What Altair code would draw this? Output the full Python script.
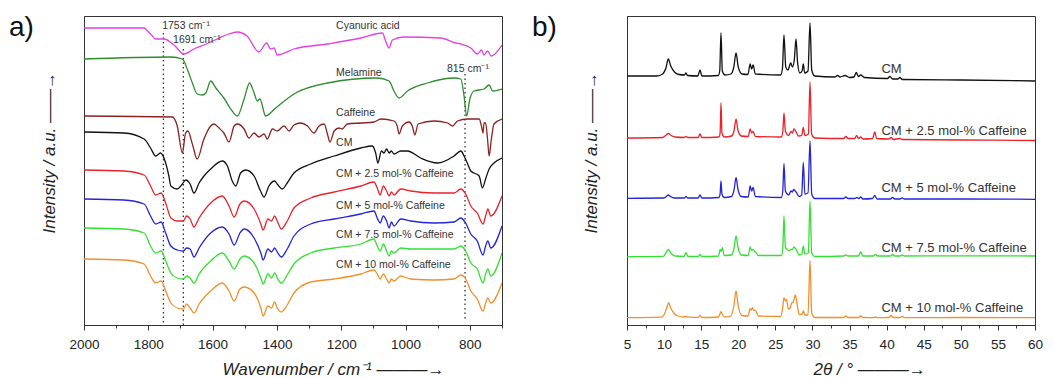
import altair as alt
import pandas as pd

FONT = "Liberation Sans"

# ---------------- Panel a: IR spectra (wavenumber, intensity a.u.) ----------------
cyanuric = [(2000, 297), (1813, 297), (1805, 295), (1790, 290), (1777, 286), (1751, 286), (1720, 280),
            (1689, 271), (1658, 276), (1620, 281), (1586, 286), (1550, 291), (1524, 293), (1493, 289),
            (1456, 273), (1432, 282), (1420, 276), (1409, 277), (1399, 270), (1347, 276), (1243, 281),
            (1139, 287), (1072, 292), (1062, 284), (1051, 277), (1041, 285), (1005, 288), (891, 287),
            (844, 282), (828, 281), (797, 277), (776, 271), (764, 275), (756, 270), (745, 274),
            (734, 269), (700, 280)]
melamine = [(2000, 266), (1730, 268), (1694, 266), (1679, 256), (1663, 242), (1648, 231), (1632, 230),
            (1621, 232), (1606, 244), (1590, 237), (1565, 227), (1539, 214), (1523, 209), (1502, 226),
            (1485, 242), (1471, 232), (1461, 224), (1453, 226), (1435, 209), (1404, 217), (1347, 231),
            (1243, 242), (1088, 247), (1051, 244), (1036, 234), (1020, 227), (994, 234), (932, 242),
            (849, 247), (828, 246), (818, 229), (810, 209), (800, 226), (787, 234), (756, 236),
            (740, 240), (729, 234), (700, 236)]
caffeine = [(2000, 209), (1725, 208), (1710, 199), (1694, 172), (1684, 192), (1677, 194), (1663, 181),
            (1648, 166), (1627, 186), (1606, 199), (1596, 201), (1580, 197), (1565, 192), (1549, 183),
            (1533, 199), (1523, 201), (1502, 196), (1487, 187), (1471, 192), (1456, 188), (1440, 191),
            (1430, 186), (1414, 196), (1399, 194), (1378, 199), (1362, 194), (1347, 200), (1326, 202),
            (1305, 199), (1285, 192), (1269, 199), (1253, 201), (1243, 191), (1235, 183), (1222, 194),
            (1207, 197), (1197, 196), (1181, 201), (1139, 202), (1098, 203), (1077, 206), (1036, 204),
            (1026, 199), (1020, 191), (1010, 199), (989, 203), (979, 199), (971, 190), (961, 201),
            (911, 204), (869, 202), (854, 199), (838, 204), (808, 206), (771, 206), (764, 199),
            (759, 192), (756, 202), (751, 202), (745, 186), (740, 169), (733, 186), (725, 201), (700, 206)]
cm = [(2000, 193), (1876, 192), (1813, 186), (1793, 177), (1777, 169), (1762, 172), (1746, 162),
      (1736, 149), (1730, 139), (1710, 136), (1694, 141), (1684, 145), (1670, 141), (1658, 132),
      (1642, 142), (1627, 149), (1606, 156), (1570, 164), (1554, 159), (1539, 144), (1528, 139),
      (1513, 152), (1497, 155), (1471, 149), (1451, 134), (1440, 128), (1425, 139), (1407, 144),
      (1399, 141), (1383, 136), (1368, 142), (1347, 152), (1295, 161), (1222, 169), (1139, 177),
      (1103, 179), (1093, 172), (1086, 162), (1075, 174), (1067, 172), (1059, 176), (1051, 172),
      (1044, 174), (1036, 171), (1015, 174), (994, 174), (953, 167), (901, 162), (849, 169),
      (828, 174), (818, 169), (808, 162), (797, 154), (771, 149), (761, 137), (751, 146),
      (740, 156), (725, 162), (700, 167)]
cm25 = [(2000, 155), (1876, 154), (1813, 150), (1793, 139), (1777, 130), (1760, 132), (1746, 122),
        (1730, 107), (1710, 104), (1691, 104), (1681, 109), (1670, 106), (1658, 98), (1642, 107),
        (1606, 122), (1570, 129), (1549, 119), (1533, 108), (1515, 121), (1502, 124), (1471, 116),
        (1450, 101), (1443, 95), (1428, 106), (1417, 104), (1407, 109), (1399, 104), (1386, 96),
        (1368, 104), (1347, 117), (1295, 127), (1222, 133), (1139, 139), (1098, 143), (1088, 137),
        (1079, 130), (1069, 139), (1059, 134), (1051, 129), (1044, 133), (1036, 130), (1015, 136),
        (984, 134), (911, 132), (849, 132), (828, 136), (813, 131), (797, 119), (777, 112),
        (759, 101), (751, 109), (744, 116), (735, 109), (700, 129)]
cm5 = [(2000, 126), (1876, 125), (1813, 121), (1793, 109), (1777, 101), (1760, 103), (1746, 92),
       (1730, 79), (1710, 75), (1691, 74), (1681, 77), (1670, 76), (1658, 68), (1642, 77),
       (1606, 92), (1570, 98), (1549, 91), (1533, 80), (1515, 92), (1502, 96), (1471, 87),
       (1450, 72), (1443, 65), (1428, 76), (1417, 73), (1407, 77), (1399, 73), (1386, 68),
       (1368, 76), (1347, 89), (1295, 101), (1222, 106), (1139, 111), (1098, 114), (1088, 107),
       (1079, 102), (1069, 109), (1059, 104), (1051, 97), (1044, 103), (1036, 99), (1015, 106),
       (984, 104), (911, 102), (849, 103), (828, 107), (813, 102), (797, 91), (777, 84),
       (759, 70), (751, 79), (744, 84), (735, 77), (700, 99)]
cm75 = [(2000, 97), (1876, 96), (1813, 92), (1793, 79), (1777, 72), (1760, 74), (1746, 64),
        (1730, 52), (1710, 47), (1691, 46), (1681, 49), (1670, 47), (1658, 42), (1642, 51),
        (1606, 64), (1570, 72), (1549, 64), (1533, 56), (1515, 66), (1502, 69), (1471, 62),
        (1450, 47), (1443, 41), (1428, 51), (1417, 47), (1407, 52), (1399, 47), (1386, 42),
        (1368, 50), (1347, 61), (1295, 72), (1222, 77), (1139, 81), (1098, 86), (1088, 79),
        (1079, 74), (1069, 81), (1059, 74), (1051, 69), (1044, 74), (1036, 72), (1015, 77),
        (984, 76), (911, 76), (849, 76), (828, 79), (813, 74), (797, 62), (777, 56),
        (759, 42), (751, 51), (744, 56), (735, 49), (700, 72)]
cm10 = [(2000, 66), (1876, 65), (1813, 61), (1793, 49), (1777, 42), (1760, 44), (1746, 34),
        (1730, 22), (1710, 17), (1691, 16), (1681, 21), (1670, 17), (1658, 12), (1642, 21),
        (1606, 34), (1570, 42), (1549, 34), (1533, 24), (1515, 36), (1502, 38), (1471, 32),
        (1450, 17), (1443, 9), (1428, 19), (1417, 17), (1407, 23), (1399, 17), (1386, 13),
        (1368, 20), (1347, 32), (1295, 43), (1222, 46), (1139, 51), (1098, 55), (1088, 51),
        (1079, 46), (1069, 51), (1059, 46), (1051, 42), (1044, 46), (1036, 44), (1015, 49),
        (984, 46), (911, 45), (849, 46), (828, 50), (813, 46), (797, 34), (777, 26),
        (759, 14), (751, 22), (744, 27), (735, 22), (700, 42)]

ir_names = ["Cyanuric acid", "Melamine", "Caffeine", "CM", "CM + 2.5 mol-% Caffeine",
            "CM + 5 mol-% Caffeine", "CM + 7.5 mol-% Caffeine", "CM + 10 mol-% Caffeine"]
ir_data = [cyanuric, melamine, caffeine, cm, cm25, cm5, cm75, cm10]
ir_colors = ["#e440e2", "#2e8b2e", "#8b2222", "#111111", "#e8232b", "#2424d8", "#34e034", "#f0902c"]
ir_label_y = [299, 252, 212, 182, 151, 119, 90, 60]
ir_label_x = 1216

# dotted reference lines: wavenumber, top, bottom
ref_wn = [1753, 1691, 815]
ref_top = [292, 276, 251]
ref_bottom = [2, 0, 4]
ref_text = ["1753 cm⁻¹", "1691 cm⁻¹", "815 cm⁻¹"]
ref_text_x = [1757, 1723, 871]
ref_text_y = [299, 285, 256]

# ---------------- Panel b: XRD patterns (2theta, intensity a.u.) ----------------
xrd_cm = [(5, 249), (9.0, 249), (9.8, 251), (10.25, 257), (10.57, 266), (10.9, 259), (11.4, 253),
          (12.0, 250.5), (12.75, 250), (12.95, 252), (13.15, 249.5), (14.55, 249), (14.84, 255),
          (15.1, 249), (17.3, 249.5), (17.5, 254), (17.67, 292), (17.85, 254), (18.2, 250),
          (19.0, 251), (19.4, 258), (19.7, 272), (20.0, 258), (20.5, 251), (21.3, 250.5),
          (21.6, 261), (21.8, 256), (22.0, 260), (22.3, 251), (25.7, 250), (25.95, 256),
          (26.16, 290), (26.4, 258), (26.7, 255), (27.07, 262), (27.3, 258), (27.55, 265),
          (27.78, 286), (28.0, 262), (28.3, 252), (28.6, 254), (28.77, 261), (28.95, 252),
          (29.4, 254), (29.67, 302), (29.9, 255), (30.3, 249), (33.0, 248), (33.4, 249.5),
          (33.7, 248), (34.4, 249.5), (35.0, 247.5), (35.6, 248), (35.9, 252.5), (36.2, 248.5),
          (36.5, 250), (37.0, 247.5), (40.1, 246.5), (40.45, 248.5), (40.8, 246), (41.5, 246),
          (41.8, 247.5), (42.1, 245.5), (50, 245), (60, 244)]
xrd_25 = [(5, 187), (9.8, 187.5), (10.2, 189.5), (10.57, 191.5), (10.95, 189.5), (11.5, 188),
          (12.7, 187.5), (12.95, 188.5), (13.2, 187.5), (14.6, 187.5), (14.84, 191), (15.1, 187.5),
          (17.4, 188), (17.55, 192), (17.67, 222), (17.8, 192), (18.1, 188), (19.1, 189),
          (19.45, 195), (19.7, 206), (19.95, 195), (20.4, 189), (21.35, 188.5), (21.6, 196),
          (21.8, 192), (22.0, 193.5), (22.3, 188.5), (25.8, 188), (26.0, 193), (26.16, 212),
          (26.35, 194), (26.8, 189.5), (27.1, 193.5), (27.3, 192), (27.5, 196), (27.8, 193),
          (28.1, 189), (28.55, 189.5), (28.77, 197.5), (28.97, 189.5), (29.45, 191), (29.67, 243),
          (29.88, 191), (30.3, 187), (34.2, 186.5), (34.5, 188.5), (34.8, 186.5), (35.7, 186.5),
          (35.95, 189.5), (36.2, 186.5), (36.5, 188), (36.8, 186), (38.1, 186.5), (38.4, 193),
          (38.65, 186.5), (40.3, 186), (40.6, 187.5), (40.9, 185.5), (41.8, 186.5), (42.1, 185.5),
          (50, 185), (60, 184.5)]
xrd_5 = [(5, 126.7), (10.0, 127), (10.3, 128.5), (10.57, 130), (10.85, 128.5), (11.4, 127),
         (12.75, 127), (12.95, 128.5), (13.15, 127), (14.6, 127), (14.84, 130), (15.1, 127),
         (17.4, 127.5), (17.55, 131), (17.67, 144), (17.8, 131), (18.1, 127.5), (19.1, 128.5),
         (19.45, 136), (19.7, 147.5), (19.95, 136), (20.4, 128.5), (21.35, 128), (21.6, 139),
         (21.8, 134), (22.0, 137.5), (22.3, 128.5), (25.8, 127.5), (26.0, 134), (26.16, 161.5),
         (26.35, 134), (26.8, 130), (27.1, 134), (27.3, 133), (27.45, 135.5), (27.8, 133),
         (28.2, 128.5), (28.55, 130), (28.77, 162.5), (28.97, 131), (29.4, 132), (29.67, 184),
         (29.9, 131), (30.3, 126.5), (34.2, 126.5), (34.5, 128), (34.8, 126.5), (35.7, 126.5),
         (36.0, 127.5), (36.25, 126.5), (36.5, 128), (36.8, 126), (38.1, 126.5), (38.4, 129.5),
         (38.7, 126), (40.5, 126), (40.8, 127.5), (41.1, 126), (41.8, 126), (42.1, 127),
         (42.4, 126), (50, 126), (60, 125.7)]
xrd_75 = [(5, 68.3), (9.9, 68.7), (10.25, 72), (10.57, 75.7), (10.9, 72), (11.5, 69), (12.7, 68.7),
          (12.95, 72.3), (13.2, 68.7), (14.6, 68.5), (14.84, 70.5), (15.1, 68.5), (17.35, 69),
          (17.55, 75.7), (17.7, 73.5), (17.85, 77.3), (18.1, 69.5), (19.1, 70), (19.45, 78),
          (19.7, 89), (19.95, 78), (20.4, 70), (21.35, 69.5), (21.6, 78), (21.8, 74.5), (22.0, 75.7),
          (22.2, 73.5), (22.4, 72.3), (22.7, 69.5), (25.8, 69.5), (26.0, 76), (26.16, 109),
          (26.35, 78), (26.6, 75.7), (26.85, 74), (27.1, 75.7), (27.3, 75.5), (27.5, 78),
          (27.8, 75.7), (28.2, 70), (28.55, 70.5), (28.77, 79), (28.97, 71), (29.45, 72),
          (29.67, 124), (29.9, 72), (30.3, 68.5), (34.2, 69), (34.5, 70), (34.8, 69), (36.2, 69),
          (36.5, 73), (36.8, 69), (38.2, 69), (38.5, 70.5), (38.8, 69), (40.5, 69), (40.8, 70.5),
          (41.1, 69), (41.8, 69), (42.1, 70), (42.4, 69), (50, 69.2), (60, 69)]
xrd_10 = [(5, 7.3), (9.6, 7.8), (10.05, 11), (10.35, 17), (10.6, 22.3), (10.9, 17), (11.3, 12),
          (11.9, 9), (12.7, 8), (12.95, 8.8), (13.2, 7.8), (14.6, 7.6), (14.84, 9.7), (15.1, 7.5),
          (17.3, 8), (17.5, 10.5), (17.67, 13.3), (17.85, 10.5), (18.2, 8), (19.0, 9), (19.4, 19),
          (19.7, 34), (20.0, 19), (20.5, 9.5), (21.3, 9), (21.6, 16.3), (21.75, 15), (21.9, 17.3),
          (22.1, 14.5), (22.3, 14.7), (22.7, 9), (25.7, 8.5), (25.95, 15), (26.16, 27.3),
          (26.35, 24), (26.5, 25.7), (26.75, 16), (27.0, 17), (27.2, 22), (27.4, 23), (27.7, 30),
          (27.95, 20), (28.2, 10.7), (28.55, 10.5), (28.77, 14), (28.97, 10), (29.4, 10),
          (29.67, 64.7), (29.9, 12), (30.3, 7.5), (34.2, 7.5), (34.5, 9), (34.8, 7.5), (36.2, 7.5),
          (36.5, 9), (36.8, 7.5), (38.2, 7.3), (38.5, 8), (38.8, 7.3), (40.3, 7.5), (40.6, 9.5),
          (40.9, 7.5), (41.8, 7.5), (42.1, 8.5), (42.4, 7.3), (50, 7.5), (60, 7.3)]

xrd_names = ["CM", "CM + 2.5 mol-% Caffeine", "CM + 5 mol-% Caffeine",
             "CM + 7.5 mol-% Caffeine", "CM + 10 mol-% Caffeine"]
xrd_data = [xrd_cm, xrd_25, xrd_5, xrd_75, xrd_10]
xrd_colors = ["#111111", "#e8232b", "#2424d8", "#34e034", "#f0902c"]
xrd_label_y = [256, 194, 137, 77, 17]
xrd_label_x = 39.3

# ---------------- build tables ----------------
ir_rows = [{"series": n, "wn": w, "int": v} for n, pts in zip(ir_names, ir_data) for w, v in pts]
ir_df = pd.DataFrame(ir_rows)
ir_lab = pd.DataFrame({"wn": [ir_label_x] * len(ir_names), "int": ir_label_y, "label": ir_names})
ref_df = pd.DataFrame({"wn": ref_wn, "int": ref_top, "int2": ref_bottom})
ref_lab = pd.DataFrame({"wn": ref_text_x, "int": ref_text_y, "label": ref_text})

xrd_rows = [{"series": n, "tt": t, "int": v} for n, pts in zip(xrd_names, xrd_data) for t, v in pts]
xrd_df = pd.DataFrame(xrd_rows)
xrd_lab = pd.DataFrame({"tt": [xrd_label_x] * len(xrd_names), "int": xrd_label_y, "label": xrd_names})

tick_cond_a = {"condition": {"test": "datum.value % 200 === 0", "value": 5}, "value": 3}
tick_cond_b = {"condition": {"test": "datum.value % 5 === 0", "value": 5}, "value": 3}

xa = alt.X("wn:Q",
           scale=alt.Scale(domain=[700, 2000], reverse=True, nice=False, zero=False),
           axis=alt.Axis(values=list(range(700, 2001, 100)), format="d", labelFlush=False,
                         labelExpr="datum.value % 200 === 0 ? datum.label : ''",
                         tickSize=tick_cond_a, labelPadding=7, grid=False,
                         title="Wavenumber / cm⁻¹ ———→", titleX=138, titleY=44,
                         titleAlign="left", titleBaseline="middle", titleAnchor="start"))
ya = alt.Y("int:Q", scale=alt.Scale(domain=[0, 309], nice=False, zero=False),
           axis=alt.Axis(labels=False, ticks=False, grid=False,
                         title="Intensity / a.u. ——→", titleX=-35, titleY=217, titleAngle=270,
                         titleAlign="left", titleBaseline="middle", titleAnchor="start"))

lines_a = alt.Chart(ir_df).mark_line(strokeWidth=1.3, interpolate="monotone", clip=True).encode(
    x=xa, y=ya,
    color=alt.Color("series:N", scale=alt.Scale(domain=ir_names, range=ir_colors), legend=None),
    detail="series:N")
rules_a = alt.Chart(ref_df).mark_rule(strokeDash=[1.5, 3], strokeWidth=1.3, color="#333").encode(
    x=xa, y=ya, y2="int2:Q")
text_a = alt.Chart(ir_lab).mark_text(align="left", baseline="middle", fontSize=10.5, font=FONT,
                                     color="#333").encode(x=xa, y=ya, text="label:N")
reftext_a = alt.Chart(ref_lab).mark_text(align="left", baseline="middle", fontSize=10.5, font=FONT,
                                         color="#333").encode(x=xa, y=ya, text="label:N")
tag_a = alt.Chart(pd.DataFrame({"t": ["a)"]})).mark_text(
    align="left", baseline="top", fontSize=28, font=FONT, color="#111").encode(
    x=alt.value(-75), y=alt.value(-2), text="t:N")

panel_a = alt.layer(rules_a, lines_a, text_a, reftext_a, tag_a).properties(width=418, height=309)

xb = alt.X("tt:Q",
           scale=alt.Scale(domain=[5, 60], nice=False, zero=False),
           axis=alt.Axis(values=[5 + 2.5 * i for i in range(23)], format="~g", labelFlush=False,
                         labelExpr="datum.value % 5 === 0 ? datum.label : ''",
                         tickSize=tick_cond_b, labelPadding=7, grid=False,
                         title="2θ / ° ———→", titleX=186, titleY=44,
                         titleAlign="left", titleBaseline="middle", titleAnchor="start"))
yb = alt.Y("int:Q", scale=alt.Scale(domain=[0, 309], nice=False, zero=False),
           axis=alt.Axis(labels=False, ticks=False, grid=False,
                         title="Intensity / a.u. ——→", titleX=-36, titleY=217, titleAngle=270,
                         titleAlign="left", titleBaseline="middle", titleAnchor="start"))

lines_b = alt.Chart(xrd_df).mark_line(strokeWidth=1.3, interpolate="monotone", clip=True).encode(
    x=xb, y=yb,
    color=alt.Color("series:N", scale=alt.Scale(domain=xrd_names, range=xrd_colors), legend=None),
    detail="series:N")
text_b = alt.Chart(xrd_lab).mark_text(align="left", baseline="middle", fontSize=13, font=FONT,
                                      color="#333").encode(x=xb, y=yb, text="label:N")
tag_b = alt.Chart(pd.DataFrame({"t": ["b)"]})).mark_text(
    align="left", baseline="top", fontSize=28, font=FONT, color="#111").encode(
    x=alt.value(-95), y=alt.value(-2), text="t:N")

panel_b = alt.layer(lines_b, text_b, tag_b).properties(width=408, height=309)

chart = alt.hconcat(panel_a, panel_b, spacing=28).properties(
    padding={"left": 0, "top": 5, "right": 0, "bottom": 0},
    background="white"
).configure_view(stroke="#333", strokeWidth=1).configure_axis(
    labelFont=FONT, labelFontSize=13.5, labelColor="#222", tickColor="#333", domainColor="#333",
    titleFont=FONT, titleFontSize=17, titleFontWeight="normal", titleFontStyle="italic",
    titleColor="#222"
)

chart.save("out.html", embed_options={"renderer": "svg", "actions": False})
